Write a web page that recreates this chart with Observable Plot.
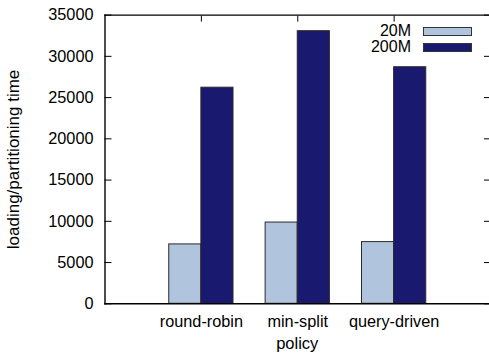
<!DOCTYPE html>
<html><head><meta charset="utf-8">
<script src="https://cdn.jsdelivr.net/npm/d3@7"></script>
<script src="https://cdn.jsdelivr.net/npm/@observablehq/plot@0.6"></script>
<style>
body{margin:0;background:#fff;}
#wrap{position:relative;width:489px;height:353px;font-family:"Liberation Sans",Arial,Helvetica,sans-serif;}
#wrap svg{display:block;}
.leg-label{position:absolute;font-size:16px;line-height:16px;color:#000;text-align:right;width:60px;}
.leg-swatch{position:absolute;width:47px;height:7px;border:1px solid #333;}
</style></head><body><div id="wrap"></div>
<script>
const categories = ["round-robin", "min-split", "query-driven"];
const seriesNames = ["20M", "200M"];
const values20M = [7200, 9850, 7480];
const values200M = [26200, 33050, 28680];
const yTicks = [0, 5000, 10000, 15000, 20000, 25000, 30000, 35000];
const seriesColors = ["#b0c4de", "#191970"];

const seriesValues = [values20M, values200M];
const data = [];
categories.forEach((c, i) => {
  seriesNames.forEach((s, k) => {
    data.push({category: c, series: s, value: seriesValues[k][i], x1: i - (1 - k) / 3, x2: i + k / 3});
  });
});
const catIdx = categories.map((c, i) => i);

const W = 489, H = 353;
const ML = 104.5, MT = 14.6, MB = 49.7, MR = 0;

const chart = Plot.plot({
  width: W, height: H,
  marginLeft: ML, marginTop: MT, marginBottom: MB, marginRight: MR,
  style: {fontFamily: '"Liberation Sans", Arial, Helvetica, sans-serif', fontSize: "16px", color: "#000", background: "#fff"},
  x: {type: "linear", domain: [-1, 3], range: [ML, 490]},
  y: {domain: [0, 35000], range: [H - MB, MT]},
  color: {domain: seriesNames, range: seriesColors},
  marks: [
    Plot.axisX({anchor: "bottom", ticks: catIdx, tickSize: -6, tickPadding: 17.5, tickFormat: i => categories[i], label: null, fontSize: 16.3, stroke: "#000"}),
    Plot.axisX({anchor: "top", ticks: catIdx, tickSize: -6, tickFormat: () => "", label: null, stroke: "#000"}),
    Plot.axisY({anchor: "left", ticks: yTicks, tickSize: -7, tickPadding: 18.5, tickFormat: d3.format("d"), label: null, fontSize: 16.3, stroke: "#000"}),
    Plot.axisY({anchor: "right", ticks: yTicks, tickSize: -6, tickFormat: () => "", label: null, stroke: "#000"}),
    Plot.rectY(data, {x1: "x1", x2: "x2", y1: 0, y2: "value", fill: "series", stroke: "#2a2a2a", strokeWidth: 1}),
    Plot.frame({anchor: "left", stroke: "#000", strokeWidth: 1.4}),
    Plot.frame({anchor: "top", stroke: "#000", strokeWidth: 1.4}),
    Plot.frame({anchor: "bottom", stroke: "#000", strokeWidth: 1.4}),
    Plot.text(["loading/partitioning time"], {frameAnchor: "left", textAnchor: "middle", lineAnchor: "middle", rotate: -90, dx: -91.3, fontSize: 17, fill: "#000"}),
    Plot.text(["policy"], {frameAnchor: "bottom", textAnchor: "middle", lineAnchor: "middle", dy: 40, fontSize: 16.5, fill: "#000"})
  ]
});
const wrap = document.getElementById("wrap");
wrap.appendChild(chart);

// legend inside the plot area (top right)
const legendRows = [{y: 31}, {y: 47}];
seriesNames.forEach((s, k) => {
  const lab = document.createElement("div");
  lab.className = "leg-label";
  lab.textContent = s;
  lab.style.left = (411 - 60) + "px";
  lab.style.top = (legendRows[k].y - 8.5) + "px";
  wrap.appendChild(lab);
  const sw = document.createElement("div");
  sw.className = "leg-swatch";
  sw.style.background = seriesColors[k];
  sw.style.left = "422.5px";
  sw.style.top = (legendRows[k].y - 4.5) + "px";
  wrap.appendChild(sw);
});
</script>
</body></html>
